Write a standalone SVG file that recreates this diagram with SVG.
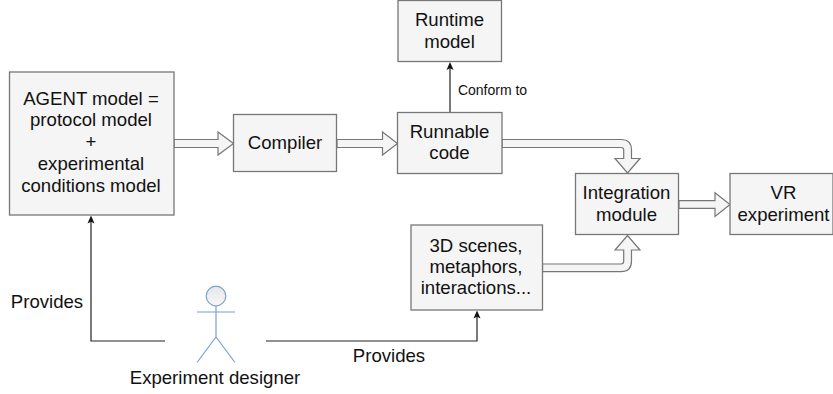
<svg xmlns="http://www.w3.org/2000/svg" width="833" height="394" viewBox="0 0 833 394">
<style>
text{font-family:"Liberation Sans",Arial,sans-serif;font-size:18.6px;fill:#111;text-anchor:middle}
.b{fill:#f5f5f5;stroke:#777;stroke-width:1.3}
.l{fill:none;stroke:#222;stroke-width:1.2}
.f{fill:#f5f5f5;stroke:#777;stroke-width:1.2;stroke-linejoin:miter}
.a{fill:none;stroke:#7aa0d4;stroke-width:1.2}
.h{fill:#111}
</style>
<defs>
<linearGradient id="g" x1="0" y1="0" x2="0" y2="1"><stop offset="0" stop-color="#e6e6e6"/><stop offset="1" stop-color="#f8f8f8"/></linearGradient>
</defs>
<g id="connectors">
<path class="f" d="M174 139.500H218V132L233.500 143.500L218 155V147.500H174Z"/>
<path class="f" d="M337 139.500H382.500V132L397.500 143.500L382.500 155V147.500H337Z"/>
<path class="f" d="M679 200.700H715V192.700L730 204.500L715 216.500V208.300H679Z"/>
<path class="f" d="M502 139.500H621Q631.500 139.500 631.500 150V158.500H640L627.500 173L615 158.500H623.700V150Q623.700 147.500 621 147.500H502Z"/>
<path class="f" d="M542.500 271.700H621Q631.500 271.700 631.500 261V250H640L627.500 235.500L615 250H623.700V261Q623.700 264 621 264H542.500Z"/>
<path class="l" d="M165 341H91V222"/><path class="h" d="M91 215.500L87.500 223.500L91 221.800L94.500 223.500Z"/>
<path class="l" d="M266 341H477V316"/><path class="h" d="M477 310.500L473.500 318.500L477 316.800L480.500 318.500Z"/>
<path class="l" d="M450 112V68"/><path class="h" d="M450 62L446.500 70L450 68.300L453.500 70Z"/>
<text x="492.500" y="95" style="font-size:14px">Conform to</text>
<text x="47" y="307.500">Provides</text>
<text x="389" y="362">Provides</text>
</g>
<g id="agent"><rect class="b" x="9.500" y="72" width="164.500" height="143"/>
<text x="91" y="104.500">AGENT model =</text><text x="91" y="126">protocol model</text><text x="91" y="148">+</text><text x="91" y="169.500">experimental</text><text x="91" y="191.500">conditions model</text></g>
<g id="compiler"><rect class="b" x="233.500" y="114.500" width="103" height="57"/><text x="285" y="148.500">Compiler</text></g>
<g id="runnable"><rect class="b" x="397.500" y="112.500" width="104.500" height="61"/><text x="449.500" y="138">Runnable</text><text x="449.500" y="159">code</text></g>
<g id="runtime"><rect class="b" x="398" y="0.500" width="103.500" height="61"/><text x="449.500" y="26">Runtime</text><text x="449.500" y="47.500">model</text></g>
<g id="integration"><rect class="b" x="575.500" y="173.500" width="103" height="61"/><text x="626.500" y="199">Integration</text><text x="626.500" y="220.500">module</text></g>
<g id="vr"><rect class="b" x="730" y="173.500" width="103" height="61"/><text x="783.500" y="199">VR</text><text x="783.500" y="220.500">experiment</text></g>
<g id="scenes"><rect class="b" x="411" y="225" width="131.500" height="85"/><text x="476" y="251.500">3D scenes,</text><text x="476" y="272.500">metaphors,</text><text x="476" y="294">interactions...</text></g>
<g id="designer"><circle cx="216" cy="296" r="9.800" fill="url(#g)" stroke="#7aa0d4" stroke-width="1.200"/>
<path class="a" d="M216 306V337M197 312H235M216 337L197 362.500M216 337L235 362.500"/>
<text x="215" y="383.500">Experiment designer</text></g>
</svg>
